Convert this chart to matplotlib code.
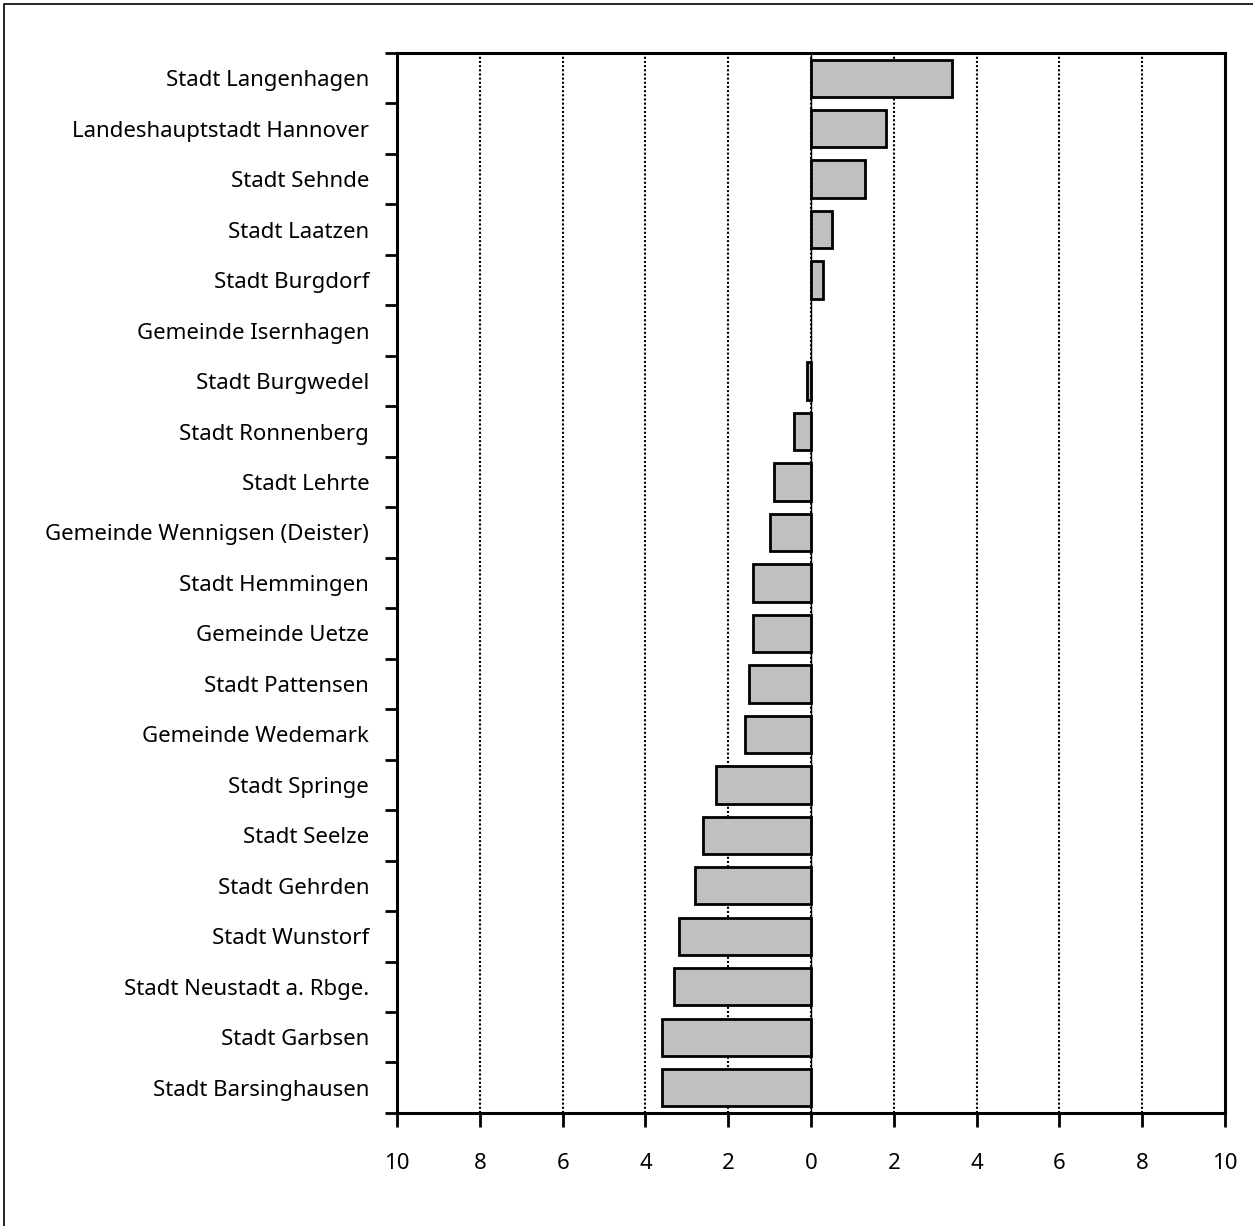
import numpy as np
import matplotlib.pyplot as plt
from matplotlib.patches import Rectangle

plt.rcParams['font.family'] = ['Noto Sans', 'DejaVu Sans']

# Gemeinden von oben nach unten
gemeinden = ['Stadt Langenhagen', 'Landeshauptstadt Hannover', 'Stadt Sehnde',
             'Stadt Laatzen', 'Stadt Burgdorf', 'Gemeinde Isernhagen',
             'Stadt Burgwedel', 'Stadt Ronnenberg', 'Stadt Lehrte',
             'Gemeinde Wennigsen (Deister)', 'Stadt Hemmingen', 'Gemeinde Uetze',
             'Stadt Pattensen', 'Gemeinde Wedemark', 'Stadt Springe',
             'Stadt Seelze', 'Stadt Gehrden', 'Stadt Wunstorf',
             'Stadt Neustadt a. Rbge.', 'Stadt Garbsen', 'Stadt Barsinghausen']
werte = [3.4, 1.8, 1.3, 0.5, 0.3, 0.0, -0.1, -0.4, -0.9, -1.0, -1.4, -1.4,
         -1.5, -1.6, -2.3, -2.6, -2.8, -3.2, -3.3, -3.6, -3.6]
xticks = [-10, -8, -6, -4, -2, 0, 2, 4, 6, 8, 10]
xlabels = ['10', '8', '6', '4', '2', '0', '2', '4', '6', '8', '10']

n = len(gemeinden)
ypos = np.arange(n)

fig = plt.figure(figsize=(12.53, 12.26), dpi=100)
ax = fig.add_axes([0.3168, 0.0922, 0.9777 - 0.3168, 0.9568 - 0.0922])

# Gitterlinien
for xt in xticks[1:-1]:
    ax.axvline(xt, color='black', lw=1.5, linestyle=(0, (1, 1)), zorder=1)

kanten = [0 if v == 0 else 2 for v in werte]
ax.barh(ypos, werte, height=0.74, color='#c0c0c0', edgecolor='black',
        linewidth=kanten, zorder=2)
ax.axvline(0, color='black', lw=1, zorder=3)

ax.set_xlim(-10, 10)
ax.set_ylim(n - 0.5, -0.5)
ax.set_xticks(xticks)
ax.set_xticklabels(xlabels, fontsize=16)
ax.set_yticks(ypos)
ax.set_yticklabels(gemeinden, fontsize=16)
ax.set_yticks(np.arange(n + 1) - 0.5, minor=True)

ax.tick_params(axis='y', which='major', length=0, pad=20)
ax.tick_params(axis='y', which='minor', length=8.6, width=2, direction='out')
ax.tick_params(axis='x', length=10, width=2, direction='out', pad=19)

for s in ax.spines.values():
    s.set_linewidth(2.2)

# Rahmen um die Grafik
fig.patches.append(Rectangle((4 / 1253, -0.1), 1.2, 1.1 - 4 / 1226,
                             transform=fig.transFigure, fill=False,
                             edgecolor='black', linewidth=1.2))

plt.savefig('out.png', dpi=100)
